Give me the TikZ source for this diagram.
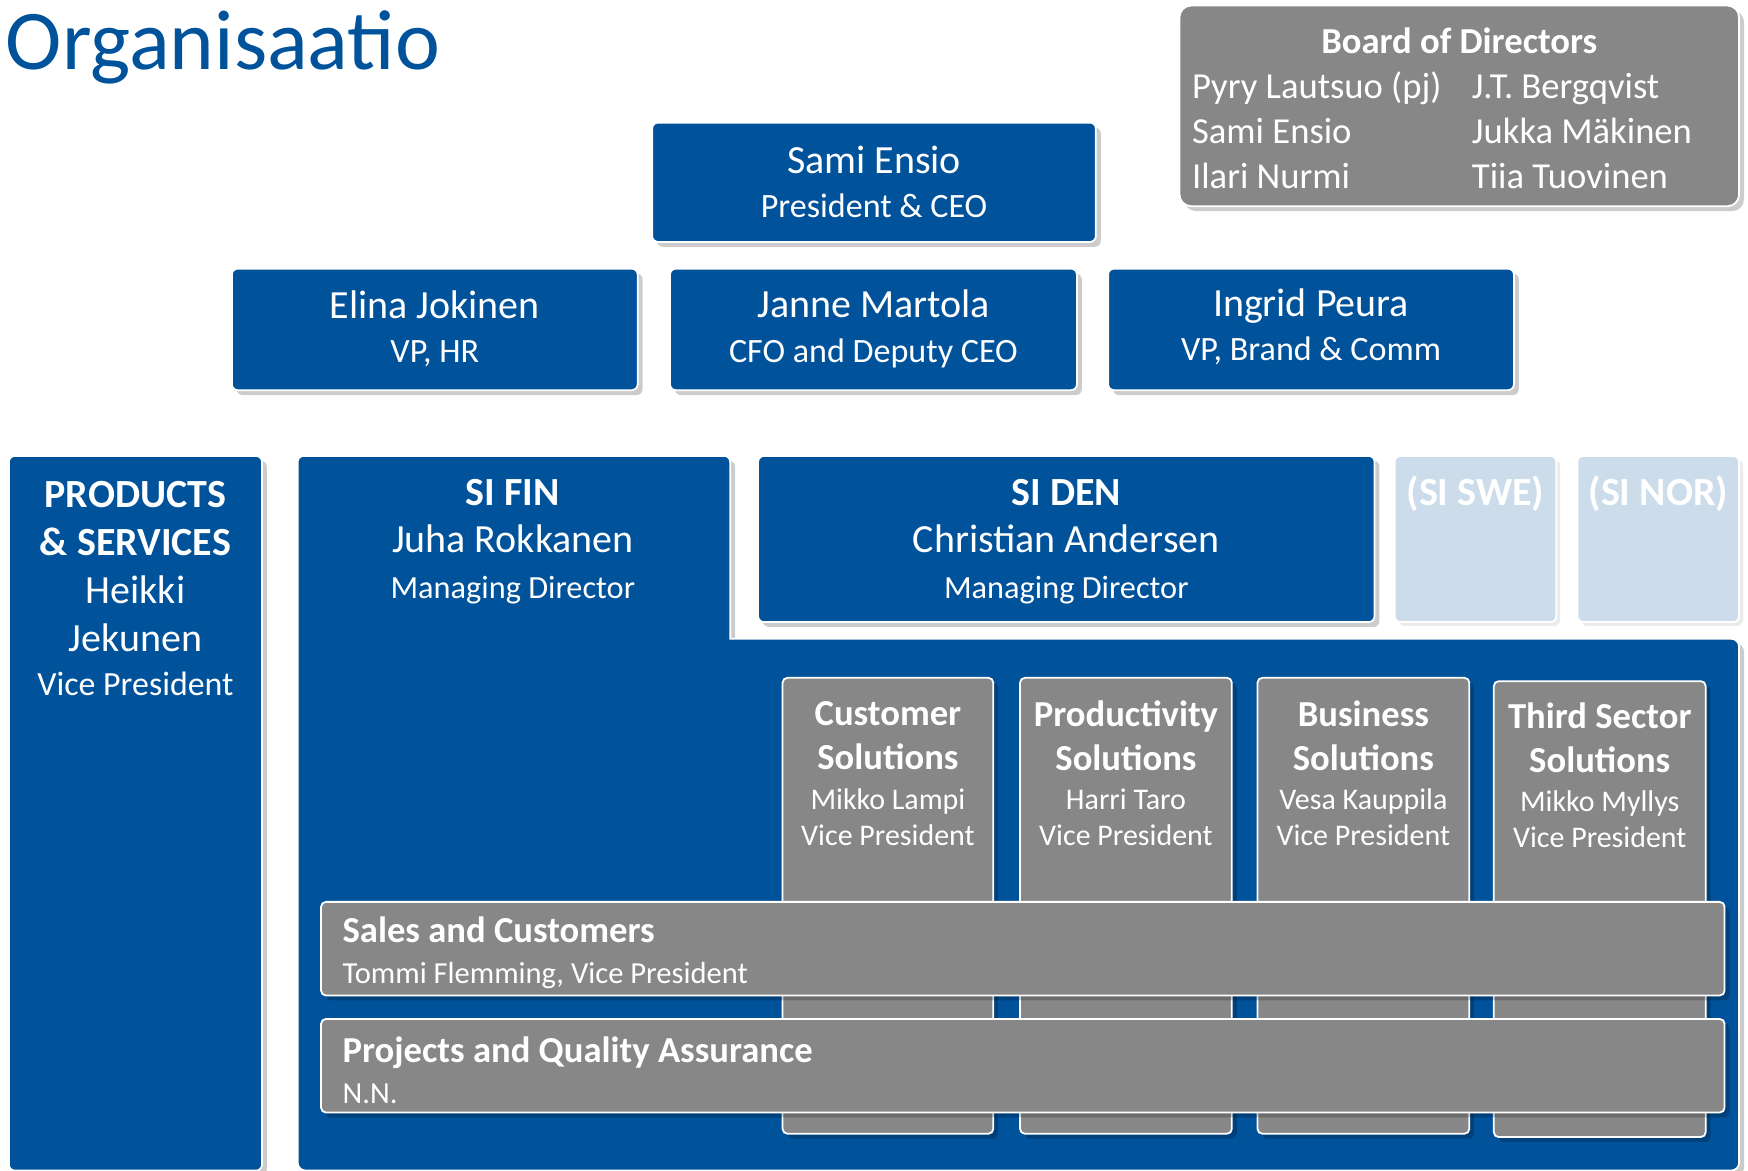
\documentclass[tikz,border=0pt]{standalone}
\usepackage{fontspec}
\setmainfont{Carlito}
\usepackage{tikz}
\usetikzlibrary{shadows}
\definecolor{siblue}{RGB}{0,82,155}
\definecolor{sigrey}{RGB}{135,135,135}
\definecolor{sipale}{RGB}{205,220,235}
\newcommand{\setfs}[2]{\fontsize{#1}{#2}\selectfont}
\tikzstyle{shd}=[drop shadow={shadow xshift=2.5pt, shadow yshift=-2.5pt, opacity=0.2, fill=black}]
\tikzstyle{bluebox}=[fill=siblue, draw=white, line width=0.9pt, rounded corners=3pt, shd]
\tikzstyle{greybox}=[fill=sigrey, draw=white, line width=0.9pt, rounded corners=2.5pt, shd]
\tikzstyle{palebox}=[fill=sipale, draw=white, line width=0.9pt, rounded corners=3pt, drop shadow={shadow xshift=2pt, shadow yshift=-2pt, opacity=0.08, fill=black}]
\tikzstyle{wt}=[text=white, align=center, inner sep=0pt]
\begin{document}
\begin{tikzpicture}[x=0.02cm, y=-0.02cm]
  \useasboundingbox (0,0) rectangle (1568,1050);
  \clip (0,0) rectangle (1568,1050);
%
  \node[anchor=base west, inner sep=0pt, text=siblue, font=\setfs{43.4}{50}] (title) at (5,62) {Organisaatio};
%
  \draw[greybox, rounded corners=6pt] (1058,5) rectangle (1560,185);
  \node[wt, anchor=base, font=\bfseries\setfs{18.7}{22}] (bod) at (1309,48) {Board of Directors};
  \node[wt, anchor=base west, font=\setfs{18.7}{22}] (b1) at (1069,88) {Pyry Lautsuo (pj)};
  \node[wt, anchor=base west, font=\setfs{18.7}{22}] (b2) at (1069,129) {Sami Ensio};
  \node[wt, anchor=base west, font=\setfs{18.7}{22}] (b3) at (1069,169) {Ilari Nurmi};
  \node[wt, anchor=base west, font=\setfs{18.7}{22}] (b4) at (1320,88) {J.T. Bergqvist};
  \node[wt, anchor=base west, font=\setfs{18.7}{22}] (b5) at (1320,129) {Jukka Mäkinen};
  \node[wt, anchor=base west, font=\setfs{18.7}{22}] (b6) at (1320,169) {Tiia Tuovinen};
%
  \draw[bluebox] (585,110) rectangle (983,217);
  \node[wt, font=\setfs{20.4}{22.7}] (ceo) at (784,163) {Sami Ensio\\{\setfs{17.4}{22.7}President \& CEO}};
%
  \draw[bluebox] (208,241) rectangle (572,350);
  \node[wt, font=\setfs{20.4}{22.7}] (hr) at (390,295) {Elina Jokinen\\{\setfs{17.4}{22.7}VP, HR}};
  \draw[bluebox] (601,241) rectangle (966,350);
  \node[wt, font=\setfs{20.4}{22.7}] (cfo) at (783.5,295) {Janne Martola\\{\setfs{17.4}{22.7}CFO and Deputy CEO}};
  \draw[bluebox] (994,241) rectangle (1358,350);
  \node[wt, font=\setfs{20.4}{22.7}] (comm) at (1176,293) {Ingrid Peura\\{\setfs{17.4}{22.7}VP, Brand \& Comm}};
%
  \draw[bluebox] (8,409) rectangle (235,1050);
  \node[wt, font=\setfs{20.4}{24.4}] (ps) at (121.5,528) {\textbf{PRODUCTS}\\\textbf{\& SERVICES}\\Heikki\\Jekunen\\[-2pt]{\setfs{17.3}{24.4}Vice President}};
%
  \draw[bluebox] (267,1050) -- (267,409) -- (655,409) [sharp corners] -- (655,573) [rounded corners=4pt] -- (1560,573) -- (1560,1050) -- cycle;
  \node[wt, font=\setfs{20.4}{23.8}] (fin) at (460,486) {\textbf{SI FIN}\\Juha Rokkanen\\{\setfs{16.5}{23.8}Managing Director}};
  \draw[bluebox] (680,409) rectangle (1233,558);
  \node[wt, font=\setfs{20.4}{23.8}] (den) at (956.5,486) {\textbf{SI DEN}\\Christian Andersen\\{\setfs{16.5}{23.8}Managing Director}};
  \draw[palebox] (1251,409) rectangle (1396,558);
  \node[wt, font=\bfseries\setfs{20.4}{23.8}] (swe) at (1323.5,443) {(SI SWE)};
  \draw[palebox] (1415,409) rectangle (1560,558);
  \node[wt, font=\bfseries\setfs{20.4}{23.8}] (nor) at (1487.5,443) {(SI NOR)};
%
  \draw[greybox] (702,608) rectangle (891,1017);
  \node[wt, font=\bfseries\setfs{18.7}{22.7}] (cs) at (796.5,660) {Customer\\Solutions};
  \node[wt, font=\setfs{15.3}{18.7}] (csp) at (796.5,733) {Mikko Lampi\\Vice President};
  \draw[greybox] (915,608) rectangle (1105,1017);
  \node[wt, font=\bfseries\setfs{18.7}{22.7}] (prs) at (1010,660) {Productivity\\Solutions};
  \node[wt, font=\setfs{15.3}{18.7}] (prsp) at (1010,733) {Harri Taro\\Vice President};
  \draw[greybox] (1128,608) rectangle (1318,1017);
  \node[wt, font=\bfseries\setfs{18.7}{22.7}] (bs) at (1223,660) {Business\\Solutions};
  \node[wt, font=\setfs{15.3}{18.7}] (bsp) at (1223,733) {Vesa Kauppila\\Vice President};
  \draw[greybox] (1340,611) rectangle (1530,1020);
  \node[wt, font=\bfseries\setfs{18.7}{22.7}] (ts) at (1435,662) {Third Sector\\Solutions};
  \node[wt, font=\setfs{15.3}{18.7}] (tsp) at (1435,735) {Mikko Myllys\\Vice President};
%
  \draw[greybox] (288,809) rectangle (1547,893);
  \node[wt, align=left, anchor=west, font=\setfs{18.7}{21}] (sales) at (307,855) {\textbf{Sales and Customers}\\{\setfs{15.6}{21}Tommi Flemming, Vice President}};
  \draw[greybox] (288,914) rectangle (1547,998);
  \node[wt, align=left, anchor=west, font=\setfs{18.7}{21}] (pqa) at (307,960) {\textbf{Projects and Quality Assurance}\\{\setfs{15.6}{21}N.N.}};
\end{tikzpicture}
\end{document}
